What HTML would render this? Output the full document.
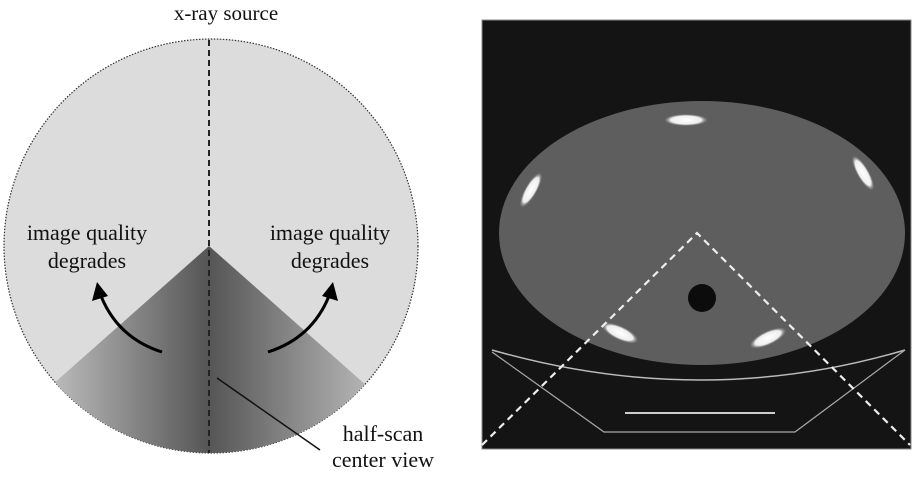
<!DOCTYPE html>
<html><head><meta charset="utf-8"><style>
html,body{margin:0;padding:0;background:#fff;width:912px;height:477px;overflow:hidden}
svg{display:block}
text{font-family:"Liberation Serif",serif;fill:#111}
</style></head><body>
<svg width="912" height="477" viewBox="0 0 912 477">
<defs>
<linearGradient id="gl" x1="58" y1="0" x2="209" y2="0" gradientUnits="userSpaceOnUse">
<stop offset="0" stop-color="#b8b8b8"/><stop offset="1" stop-color="#555"/></linearGradient>
<linearGradient id="gr" x1="209" y1="0" x2="372" y2="0" gradientUnits="userSpaceOnUse">
<stop offset="0" stop-color="#555"/><stop offset="1" stop-color="#b8b8b8"/></linearGradient>
<clipPath id="cc"><circle cx="211" cy="246" r="207"/></clipPath>
<radialGradient id="blob"><stop offset="0" stop-color="#fff"/><stop offset="0.7" stop-color="#eee"/><stop offset="1" stop-color="#888" stop-opacity="0"/></radialGradient>
</defs>
<g>
<circle cx="211" cy="246" r="207" fill="#dcdcdc" stroke="#333" stroke-width="1.2" stroke-dasharray="1.5 1.5"/>
<g clip-path="url(#cc)">
<polygon points="209,246 0,431 0,455 209,455" fill="url(#gl)"/>
<polygon points="209,246 420,433 420,455 209,455" fill="url(#gr)"/>
</g>
<line x1="209" y1="40" x2="209" y2="453" stroke="#222" stroke-width="2" stroke-dasharray="6 4"/>
<path d="M162,352 Q118,338 101,296" fill="none" stroke="#000" stroke-width="3"/>
<polygon points="97,282 92,301 108,296" fill="#000"/>
<path d="M268,352 Q312,338 329,296" fill="none" stroke="#000" stroke-width="3"/>
<polygon points="333,282 322,296 338,301" fill="#000"/>
<line x1="217" y1="378" x2="320" y2="450" stroke="#111" stroke-width="1.5"/>
<text x="226" y="20" font-size="21" text-anchor="middle">x-ray source</text>
<text x="87" y="240" font-size="22" text-anchor="middle">image quality</text>
<text x="87" y="268" font-size="22" text-anchor="middle">degrades</text>
<text x="330" y="240" font-size="22" text-anchor="middle">image quality</text>
<text x="330" y="268" font-size="22" text-anchor="middle">degrades</text>
<text x="383" y="441" font-size="22" text-anchor="middle">half-scan</text>
<text x="383" y="467" font-size="22" text-anchor="middle">center view</text>
</g>
<g>
<rect x="482" y="20" width="429" height="429" fill="#141414" stroke="#888" stroke-width="1"/>
<ellipse cx="702" cy="233" rx="203" ry="132" fill="#5e5e5e"/>
<circle cx="702" cy="298" r="14" fill="#0c0c0c"/>
<ellipse cx="686" cy="120" rx="22" ry="6" fill="url(#blob)"/>
<ellipse cx="531" cy="190" rx="20" ry="6" fill="url(#blob)" transform="rotate(-60 531 190)"/>
<ellipse cx="863" cy="173" rx="20" ry="6" fill="url(#blob)" transform="rotate(60 863 173)"/>
<ellipse cx="620" cy="333" rx="20" ry="7" fill="url(#blob)" transform="rotate(25 620 333)"/>
<ellipse cx="768" cy="338" rx="20" ry="7" fill="url(#blob)" transform="rotate(-25 768 338)"/>
<path d="M492,350 Q702,410 905,350" fill="none" stroke="#bbb" stroke-width="1.5"/>
<polyline points="492,352 604,432 795,432 905,350" fill="none" stroke="#aaa" stroke-width="1.2"/>
<line x1="625" y1="413" x2="775" y2="413" stroke="#ccc" stroke-width="2"/>
<polyline points="482,445 697,233 910,445" fill="none" stroke="#eee" stroke-width="2.2" stroke-dasharray="7 5"/>
</g>
</svg>
</body></html>
